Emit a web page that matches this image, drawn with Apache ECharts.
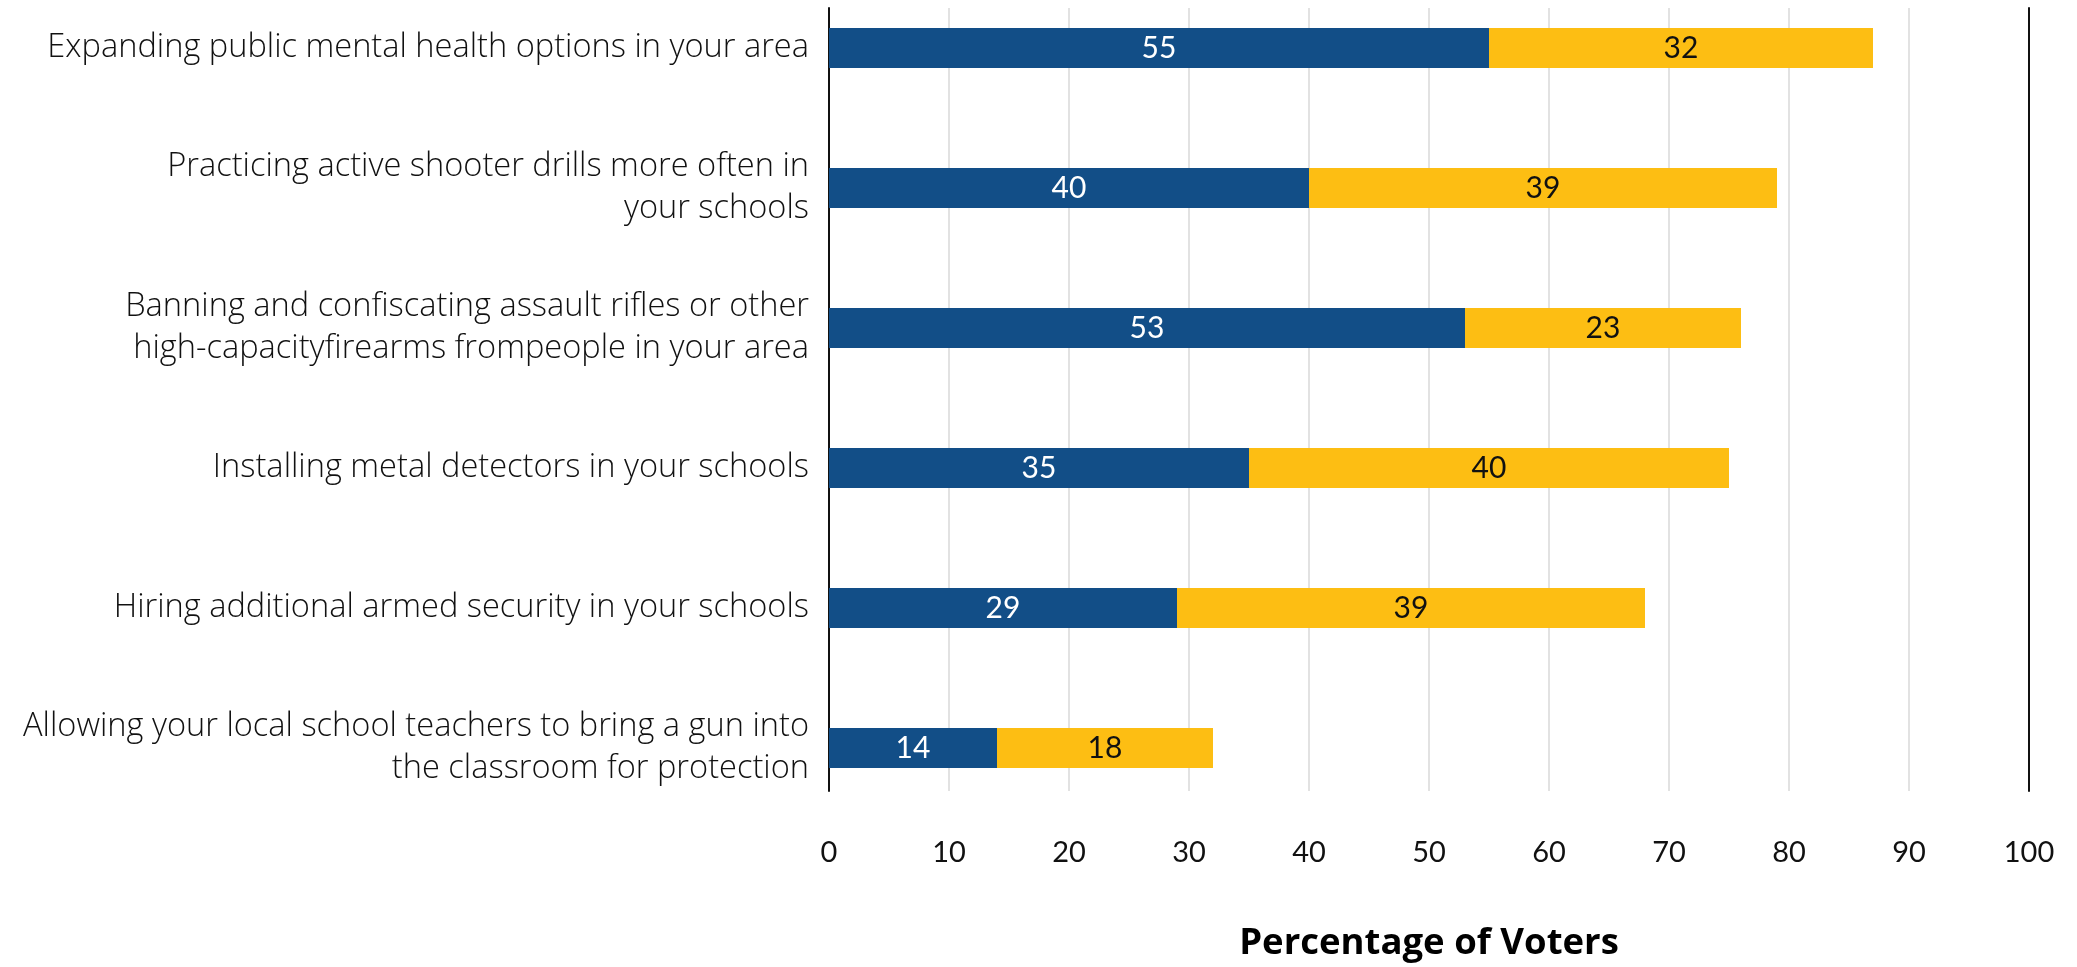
<!DOCTYPE html>
<html>
<head>
<meta charset="utf-8">
<script src="https://cdn.jsdelivr.net/npm/echarts@6/dist/echarts.min.js"></script>
<style>
html,body{margin:0;padding:0;background:#fff;}
#chart{width:2077px;height:967px;}
</style>
</head>
<body>
<div id="chart"></div>
<script>
const categories = [
  "Expanding public mental health options in your area",
  "Practicing active shooter drills more often in\nyour schools",
  "Banning and confiscating assault rifles or other\nhigh-capacityfirearms frompeople in your area",
  "Installing metal detectors in your schools",
  "Hiring additional armed security in your schools",
  "Allowing your local school teachers to bring a gun into\nthe classroom for protection"
];
const strongValues = [55, 40, 53, 35, 29, 14];
const somewhatValues = [32, 39, 23, 40, 39, 18];
const xTicks = [0, 10, 20, 30, 40, 50, 60, 70, 80, 90, 100];

const FONT = 'Lato';
const LABEL_FONT = 'Open Sans';
const chart = echarts.init(document.getElementById('chart'));
const LEFT = 829, WIDTH = 1200;
chart.setOption({
  animation: false,
  textStyle: { fontFamily: FONT },
  grid: [
    { left: LEFT, width: WIDTH, top: 8, height: 799 },
    { left: LEFT, width: WIDTH, top: 48, height: 700 }
  ],
  xAxis: [
    {
      gridIndex: 0, type: 'value', min: xTicks[0], max: xTicks[xTicks.length - 1], interval: 10,
      axisLine: { show: false }, axisTick: { show: false },
      splitLine: { show: true, lineStyle: { color: '#d9d9d9', width: 1.5 } },
      axisLabel: { fontFamily: FONT, fontSize: 29, color: '#111', margin: 47 },
      name: 'Percentage of Voters', nameLocation: 'middle', nameGap: 134,
      nameTextStyle: { fontFamily: LABEL_FONT, fontSize: 36.5, fontWeight: 'bold', color: '#000' }
    },
    {
      gridIndex: 1, type: 'value', min: 0, max: 100, show: false
    }
  ],
  yAxis: [
    {
      gridIndex: 0, type: 'value', min: 0, max: 1, position: 'left',
      axisLine: { show: true, lineStyle: { color: '#111', width: 2 } },
      axisTick: { show: false }, axisLabel: { show: false }, splitLine: { show: false }
    },
    {
      gridIndex: 0, type: 'value', min: 0, max: 1, position: 'right',
      axisLine: { show: true, lineStyle: { color: '#111', width: 2 } },
      axisTick: { show: false }, axisLabel: { show: false }, splitLine: { show: false }
    },
    {
      gridIndex: 1, type: 'category', data: categories, inverse: true, boundaryGap: false,
      axisLine: { show: false }, axisTick: { show: false },
      axisLabel: { fontFamily: LABEL_FONT, fontWeight: 300, fontSize: 32.6, color: '#111', margin: 20, lineHeight: 42, align: 'right' }
    }
  ],
  series: [
    {
      name: 'Strongly', type: 'bar', stack: 's', xAxisIndex: 1, yAxisIndex: 2,
      data: strongValues, barWidth: 40,
      itemStyle: { color: '#124e87' },
      label: { show: true, position: 'inside', color: '#fff', fontFamily: FONT, fontSize: 30 }
    },
    {
      name: 'Somewhat', type: 'bar', stack: 's', xAxisIndex: 1, yAxisIndex: 2,
      data: somewhatValues, barWidth: 40,
      itemStyle: { color: '#fdbe13' },
      label: { show: true, position: 'inside', color: '#111', fontFamily: FONT, fontSize: 30 }
    }
  ]
});
</script>
</body>
</html>
